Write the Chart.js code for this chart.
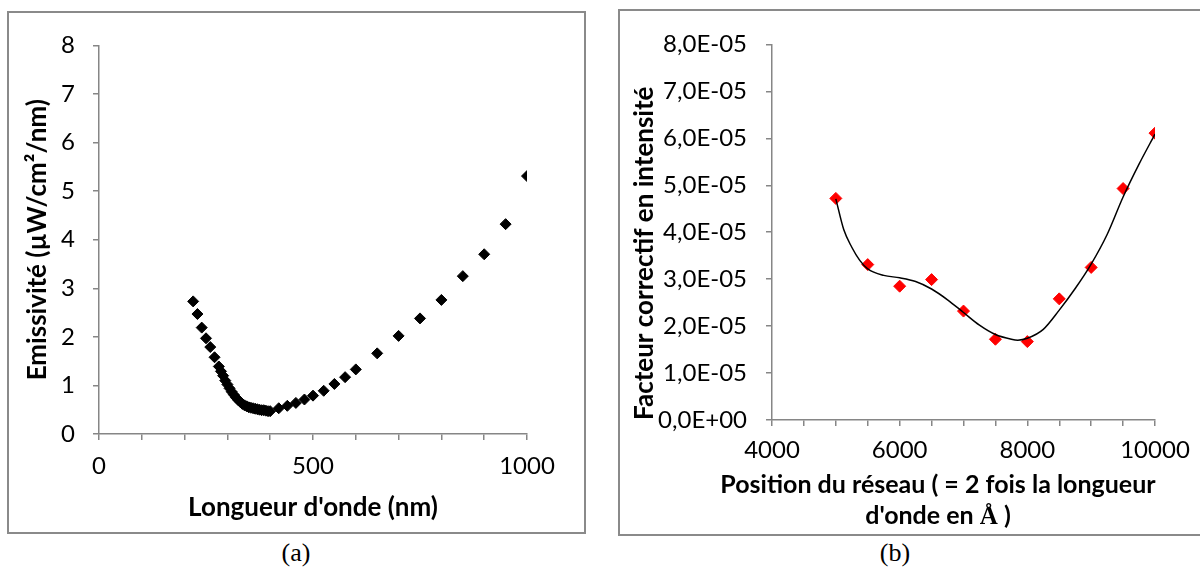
<!DOCTYPE html>
<html>
<head>
<meta charset="utf-8">
<script src="https://cdn.jsdelivr.net/npm/chart.js@4"></script>
<style>
  body { margin: 0; background: #fff; width: 1200px; height: 572px; overflow: hidden; position: relative; font-family: Lato, sans-serif; }
  .panel { position: absolute; border: 2px solid #8a8a8a; box-sizing: border-box; }
  canvas { position: absolute; }
  .caption { position: absolute; font-family: "Liberation Serif", serif; font-size: 26px; transform: translate(-50%, -50%); }
  #xTitleB { position: absolute; left: 688px; width: 500px; top: 468px; text-align: center; font: bold 25px Lato, sans-serif; line-height: 31px; }
</style>
</head>
<body>
<div class="panel" style="left:7px; top:11px; width:579px; height:523px;"></div>
<div class="panel" style="left:618px; top:9px; width:600px; height:527px;"></div>
<canvas id="chartA" width="575" height="519" style="left:9px; top:13px;"></canvas>
<canvas id="chartB" width="580" height="523" style="left:620px; top:11px;"></canvas>
<div id="xTitleB">Position du réseau ( = 2 fois la longueur<br>d'onde en <span style="font-family:'Liberation Serif',serif;">Å</span> )</div>
<div class="caption" style="left:296px; top:553px;">(a)</div>
<div class="caption" style="left:895px; top:553px;">(b)</div>
<script>
// (a) emissivity of the lamp
const wavelength = [220, 230, 240, 250, 260, 270, 280, 285, 290, 295, 300, 305, 310, 315, 320, 325, 330, 335, 340, 345,
    350, 355, 360, 365, 370, 375, 380, 385, 390, 395, 400, 420, 440, 460, 480, 500, 525, 550, 575, 600,
    650, 700, 750, 800, 850, 900, 950, 1000];
const emissivity = [2.73, 2.47, 2.19, 1.97, 1.79, 1.58, 1.39, 1.29, 1.20, 1.10, 1.02, 0.94, 0.87, 0.81, 0.75, 0.70, 0.66, 0.62, 0.59, 0.57,
    0.55, 0.54, 0.53, 0.52, 0.51, 0.50, 0.49, 0.49, 0.48, 0.47, 0.47, 0.53, 0.58, 0.64, 0.71, 0.79, 0.89, 1.03, 1.17, 1.33,
    1.66, 2.02, 2.38, 2.76, 3.25, 3.70, 4.32, 5.31];

// (b) correction factor
const position = [5000, 5500, 6000, 6500, 7000, 7500, 8000, 8500, 9000, 9500, 10000];
const facteur = [4.72e-5, 3.31e-5, 2.85e-5, 2.99e-5, 2.32e-5, 1.72e-5, 1.67e-5, 2.58e-5, 3.25e-5, 4.93e-5, 6.11e-5];

// trend curve
const trendX = [5000, 5125, 5250, 5375, 5500, 5750, 6000, 6250, 6500, 6750, 7000, 7250, 7500, 7750, 7850, 8000,
    8250, 8500, 8750, 9000, 9250, 9500, 9750, 10000];
const trendY = [4.71e-5, 4.05e-5, 3.68e-5, 3.40e-5, 3.22e-5, 3.08e-5, 3.03e-5, 2.95e-5, 2.79e-5, 2.56e-5, 2.29e-5, 2.02e-5, 1.82e-5, 1.72e-5, 1.70e-5, 1.74e-5,
    1.93e-5, 2.34e-5, 2.80e-5, 3.32e-5, 3.95e-5, 4.75e-5, 5.45e-5, 6.09e-5];

const axisGray = '#868686';
const tickFont = { family: 'Lato', size: 24 };
const titleFont = { family: 'Lato', size: 26, weight: 'bold' };

function toPoints(xs, ys) {
    return xs.map((x, i) => ({ x: x, y: ys[i] }));
}

function axisGrid() {
    return { display: true, drawOnChartArea: false, drawTicks: true, tickLength: 6, color: axisGray, lineWidth: 1.5 };
}

new Chart(document.getElementById('chartA'), {
    type: 'scatter',
    data: {
        datasets: [{
            data: toPoints(wavelength, emissivity),
            pointStyle: 'rectRot',
            pointRadius: 5.5,
            borderWidth: 1,
            backgroundColor: '#000',
            borderColor: '#000'
        }]
    },
    options: {
        responsive: false,
        animation: false,
        layout: { padding: { left: 0, top: 29, right: 57, bottom: 0 } },
        plugins: { legend: { display: false }, tooltip: { enabled: false } },
        scales: {
            x: {
                type: 'linear', min: 0, max: 1000,
                grid: axisGrid(),
                border: { color: axisGray, width: 1.5 },
                ticks: {
                    stepSize: 100, autoSkip: false, maxRotation: 0, padding: 12,
                    font: tickFont, color: '#000',
                    callback: v => (v % 500 === 0 ? String(v) : '')
                },
                title: { display: true, text: "Longueur d'onde (nm)", font: titleFont, color: '#000', padding: { top: 0, bottom: 9 } },
                afterFit: s => { s.height = 98; }
            },
            y: {
                min: 0, max: 8,
                grid: axisGrid(),
                border: { color: axisGray, width: 1.5 },
                ticks: { stepSize: 1, padding: 18, font: tickFont, color: '#000' },
                title: { display: true, text: 'Emissivité (µW/cm²/nm)', font: titleFont, color: '#000', padding: { top: 13, bottom: 0 } },
                afterFit: s => { s.width = 90; }
            }
        }
    }
});

new Chart(document.getElementById('chartB'), {
    type: 'scatter',
    data: {
        datasets: [{
            data: toPoints(trendX, trendY),
            showLine: true,
            cubicInterpolationMode: 'monotone',
            borderColor: '#000',
            borderWidth: 1.5,
            pointRadius: 0
        }, {
            data: toPoints(position, facteur),
            pointStyle: 'rectRot',
            pointRadius: 6,
            borderWidth: 1,
            backgroundColor: '#ff0000',
            borderColor: '#ff0000'
        }]
    },
    options: {
        responsive: false,
        animation: false,
        layout: { padding: { left: 0, top: 25, right: 45, bottom: 0 } },
        plugins: { legend: { display: false }, tooltip: { enabled: false } },
        scales: {
            x: {
                type: 'linear', min: 4000, max: 10000,
                grid: axisGrid(),
                border: { color: axisGray, width: 1.5 },
                ticks: {
                    stepSize: 500, autoSkip: false, maxRotation: 0, padding: 10,
                    font: tickFont, color: '#000',
                    callback: v => (v % 2000 === 0 ? String(v) : '')
                },
                afterFit: s => { s.height = 114; }
            },
            y: {
                min: 0, max: 8e-5,
                grid: axisGrid(),
                border: { color: axisGray, width: 1.5 },
                ticks: {
                    stepSize: 1e-5, padding: 19, font: tickFont, color: '#000',
                    callback: v => (v === 0 ? '0,0E+00' : (v * 1e5).toFixed(1).replace('.', ',') + 'E-05')
                },
                title: { display: true, align: 'start', text: 'Facteur correctif en intensité', font: titleFont, color: '#000', padding: { top: 9, bottom: 0 } },
                afterFit: s => { s.width = 152; }
            }
        }
    }
});
</script>
</body>
</html>
